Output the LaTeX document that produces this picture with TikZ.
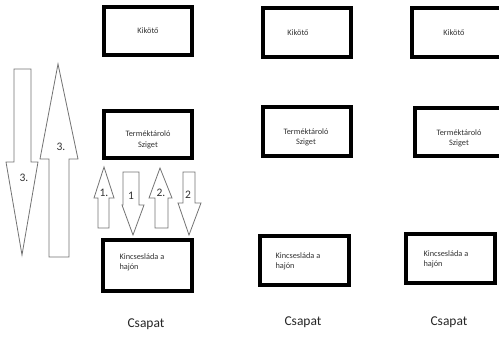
\documentclass[tikz,border=0pt]{standalone}
\usepackage{fontspec}
\setmainfont{Carlito}
\begin{document}
\begin{tikzpicture}[x=1pt,y=-1pt,
  place/.style={draw=black,line width=3.6pt,fill=white,inner sep=0pt},
  boxtext/.style={font=\fontsize{8.3}{10}\selectfont,text=black!80,align=center},
  team/.style={font=\fontsize{13.5}{15}\selectfont,text=black!85},
  blockarrow/.style={draw=black!55,line width=0.8pt,fill=white,line join=miter},
  steplabel/.style={font=\fontsize{11.5}{13}\selectfont,text=black!80}]
\useasboundingbox (0,0) rectangle (499,338);

% ---- column 1 ----
\draw[place] (104,7) rectangle (192,55);
\node[boxtext] (k1) at (148,31) {Kikötő};
\draw[place] (104,111) rectangle (192,158);
\node[boxtext] (t1) at (148,140) {Terméktároló\\[1pt]Sziget};
\draw[place] (103,240) rectangle (192,291);
\node[boxtext,align=left,anchor=west] (h1) at (116,262) {Kincsesláda a\\hajón};
\node[team] (c1) at (146,324) {Csapat};

% ---- column 2 ----
\draw[place] (263,8) rectangle (351,57);
\node[boxtext] (k2) at (298,33) {Kikötő};
\draw[place] (263,107) rectangle (351,156);
\node[boxtext] (t2) at (306,137) {Terméktároló\\Sziget};
\draw[place] (260,236) rectangle (349,285);
\node[boxtext,align=left,anchor=west] (h2) at (272,261) {Kincsesláda a\\hajón};
\node[team] (c2) at (303,322) {Csapat};

% ---- column 3 ----
\draw[place] (412,8) rectangle (503,57);
\node[boxtext] (k3) at (454,33) {Kikötő};
\draw[place] (415,108) rectangle (503,156);
\node[boxtext] (t3) at (459,138) {Terméktároló\\Sziget};
\draw[place] (406,234) rectangle (495,283);
\node[boxtext,align=left,anchor=west] (h3) at (420,259) {Kincsesláda a\\hajón};
\node[team] (c3) at (449,322) {Csapat};

% ---- long arrows, trip 3 ----
\draw[blockarrow] (14,69) -- (31,69) -- (31,162) -- (38,162) -- (22,255)
  -- (6,162) -- (14,162) -- cycle;
\node[steplabel] (s3a) at (24,178) {3.};
\draw[blockarrow] (58,64) -- (78,159) -- (69,159) -- (69,257) -- (49,257)
  -- (49,159) -- (40,159) -- cycle;
\node[steplabel] (s3b) at (61,147) {3.};

% ---- short arrows, trips 1 and 2 ----
\draw[blockarrow] (104,167) -- (114,198) -- (109,198) -- (109,228) -- (98,228)
  -- (98,198) -- (94,198) -- cycle;
\node[steplabel] (s1a) at (104,193) {1.};
\draw[blockarrow] (123,172) -- (139,172) -- (139,205) -- (144,205) -- (133,235)
  -- (122,205) -- (123,205) -- cycle;
\node[steplabel] (s1b) at (131,196) {1};
\draw[blockarrow] (160,168) -- (172,198) -- (168,198) -- (168,228) -- (155,228)
  -- (155,198) -- (149,198) -- cycle;
\node[steplabel] (s2a) at (161,193) {2.};
\draw[blockarrow] (183,172) -- (195,172) -- (195,203) -- (201,203) -- (189,235)
  -- (178,203) -- (183,203) -- cycle;
\node[steplabel] (s2b) at (188,195) {2};
\end{tikzpicture}
\end{document}
